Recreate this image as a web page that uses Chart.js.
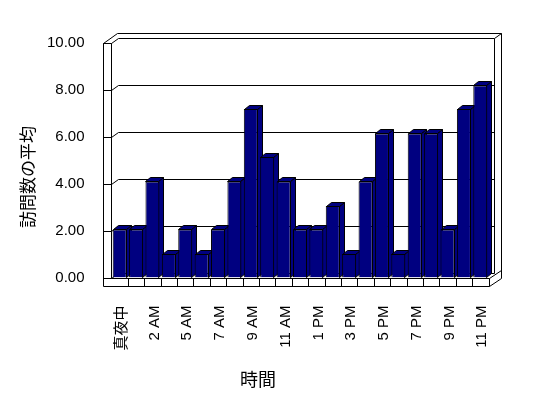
<!DOCTYPE html>
<html lang="ja">
<head>
<meta charset="UTF-8">
<title>訪問数の平均</title>
<script src="https://cdn.jsdelivr.net/npm/chart.js"></script>
<style>
  body { margin: 0; background: #fff; }
</style>
</head>
<body>
<canvas id="grafico" width="548" height="398"></canvas>
<script>
// data
const horas = ['真夜中','1 AM','2 AM','3 AM','5 AM','6 AM','7 AM','8 AM','9 AM','10 AM','11 AM','12 PM',
               '1 PM','2 PM','3 PM','4 PM','5 PM','6 PM','7 PM','8 PM','9 PM','10 PM','11 PM']
const visitas = [2.05,2.05,4.1,1,2.05,1,2.05,4.1,7.2,5.15,4.1,2.05,
                 2.05,3.05,1,4.1,6.15,1,6.15,6.15,2.05,7.2,8.2]
const ticksY = [0,2,4,6,8,10]

const tituloY = '訪問数の平均'
const tituloX = '時間'

const azul = '#000080'
const dx = 5, dy = -4      // bar depth
const fundo = 5            // back wall offset

const linha = (ctx, pts) => {
  ctx.beginPath()
  ctx.moveTo(pts[0][0], pts[0][1])
  for (let i = 1; i < pts.length; i++) ctx.lineTo(pts[i][0], pts[i][1])
  ctx.stroke()
}

const caixa3d = {
  id: 'caixa3d',
  beforeDatasetsDraw(chart) {
    const ctx = chart.ctx
    const ca = chart.chartArea
    const y = chart.scales.y
    const F = v => Math.round(y.getPixelForValue(v)) + 0.5
    const L = 103.5, I = 111.5, B = 118.5, R = 494.5, RO = 501.5, TOP = 33.5
    const chao = 286.5
    const dir = Math.round(ca.right) + 0.5

    ctx.save()
    ctx.strokeStyle = '#000'
    ctx.lineWidth = 1

    // paredes
    linha(ctx, [[L, F(10)], [L, chao]])
    linha(ctx, [[I, F(10)], [I, F(0)]])
    linha(ctx, [[L, F(10)], [I, F(10)]])
    linha(ctx, [[L, F(10)], [117.5, TOP], [RO, TOP], [RO, 278.5]])
    linha(ctx, [[R, F(10) - fundo], [RO, TOP]])
    linha(ctx, [[R, F(10) - fundo], [R, F(0) - fundo]])
    ticksY.forEach(v => {
      linha(ctx, [[L, F(v)], [I, F(v)], [B, F(v) - fundo], [R, F(v) - fundo]])
    })

    // chao
    linha(ctx, [[L, chao], [dir, chao], [RO, 278.5]])
    linha(ctx, [[I, F(0)], [dir, F(0)], [RO, 270.5]])
    linha(ctx, [[dir, F(0)], [dir, chao]])
    const passo = (ca.right - ca.left) / horas.length
    for (let i = 1; i < horas.length; i++) {
      const xx = Math.round(ca.left + i * passo) + 0.5
      linha(ctx, [[xx, F(0)], [xx, chao]])
    }

    // lados e topos das barras
    const meta = chart.getDatasetMeta(0)
    meta.data.forEach(b => {
      const e = Math.round(b.x - b.width / 2) + 0.5
      const d = Math.round(b.x + b.width / 2) - 0.5
      const t = Math.round(b.y) + 0.5
      const base = Math.round(b.base) - 0.5
      ctx.fillStyle = azul
      ctx.beginPath()
      ctx.moveTo(d, t); ctx.lineTo(d + dx, t + dy); ctx.lineTo(d + dx, base + dy); ctx.lineTo(d, base)
      ctx.closePath(); ctx.fill(); ctx.stroke()
      ctx.beginPath()
      ctx.moveTo(e, t); ctx.lineTo(e + dx, t + dy); ctx.lineTo(d + dx, t + dy); ctx.lineTo(d, t)
      ctx.closePath(); ctx.fill(); ctx.stroke()
    })

    // titulos
    ctx.fillStyle = '#000'
    ctx.textAlign = 'center'
    ctx.textBaseline = 'middle'
    ctx.font = '17px "Noto Sans CJK JP"'
    ctx.translate(28, 177)
    ctx.rotate(-Math.PI / 2)
    ctx.fillText(tituloY, 0, 0)
    ctx.setTransform(1, 0, 0, 1, 0, 0)
    ctx.font = '18px "Noto Sans CJK JP"'
    ctx.fillText(tituloX, 258, 379)
    ctx.restore()
  }
}

const ctx = document.getElementById('grafico')

let grafico = new Chart(ctx, {
  type: 'bar',
  data: {
    labels: horas,
    datasets: [{
      data: visitas,
      backgroundColor: azul,
      borderColor: '#000',
      borderWidth: 1,
      barPercentage: 0.856,
      categoryPercentage: 1
    }]
  },
  options: {
    responsive: false,
    animation: false,
    layout: { padding: { top: 43.3, right: 59.5, left: 0, bottom: 0 } },
    plugins: { legend: { display: false }, tooltip: { enabled: false } },
    scales: {
      x: {
        grid: { display: false },
        border: { display: false },
        afterFit: s => { s.height = 398 - 277.5 },
        ticks: {
          autoSkip: false,
          maxRotation: 90,
          minRotation: 90,
          padding: 20,
          labelOffset: 2,
          color: '#000',
          font: { family: '"Liberation Sans", "Noto Sans CJK JP", sans-serif', size: 15 },
          callback: (v, i) => (i % 2 === 0 ? horas[i] : '')
        }
      },
      y: {
        min: 0,
        max: 10,
        grid: { display: false },
        border: { display: false },
        afterFit: s => { s.width = 111.5 },
        afterBuildTicks: s => { s.ticks = ticksY.map(v => ({ value: v })) },
        ticks: {
          padding: 19,
          color: '#000',
          font: { family: '"Liberation Sans", sans-serif', size: 15 },
          callback: v => v.toFixed(2)
        }
      }
    }
  },
  plugins: [caixa3d]
})
</script>
</body>
</html>
